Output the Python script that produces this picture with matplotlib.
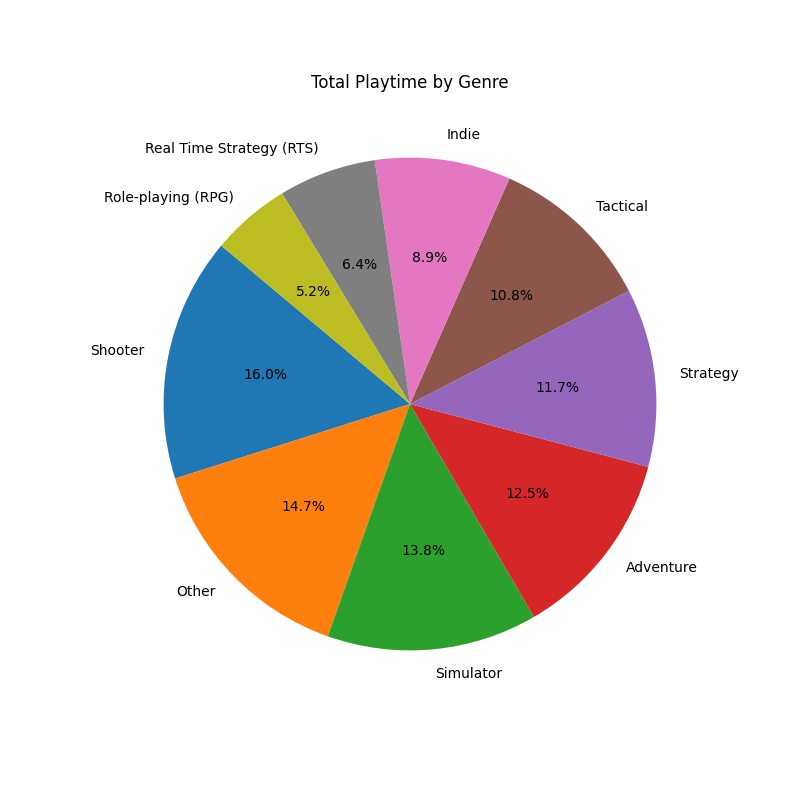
import matplotlib
matplotlib.use('Agg')
import matplotlib.pyplot as plt

# Genre shares of total playtime (percent)
genres = ["Shooter", "Other", "Simulator", "Adventure", "Strategy",
          "Tactical", "Indie", "Real Time Strategy (RTS)", "Role-playing (RPG)"]
playtime = [16.0, 14.7, 13.8, 12.5, 11.7, 10.8, 8.9, 6.4, 5.2]

fig, ax = plt.subplots(figsize=(8, 8), dpi=100)
ax.pie(playtime, labels=genres, autopct="%1.1f%%", startangle=140)
ax.set_title("Total Playtime by Genre")

plt.savefig("out.png", dpi=100)
plt.close()
